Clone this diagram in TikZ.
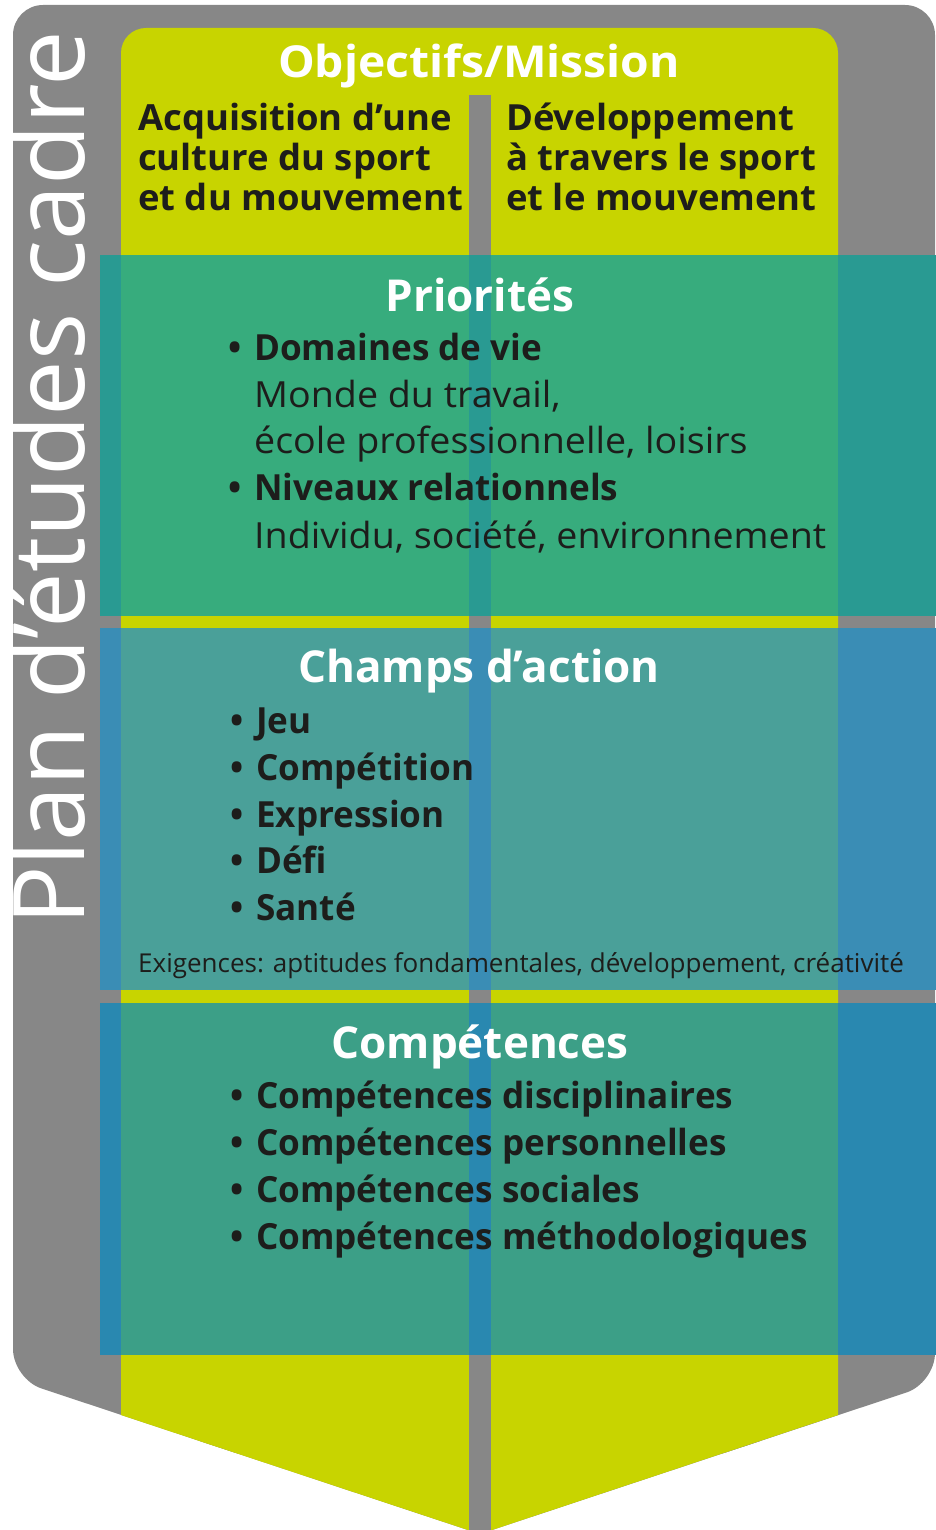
\documentclass[tikz,border=0pt]{standalone}
\usepackage{fontspec}
\setmainfont{Open Sans}
\newfontfamily\ftop[FakeStretch=1.012]{Open Sans}
\newfontfamily\fbold[FakeStretch=0.975]{Open Sans}
\newfontfamily\freg[FakeStretch=1.045]{Open Sans}
\newfontfamily\fsmall[FakeStretch=1.0]{Open Sans}
\newfontfamily\ftitle[FakeStretch=1.0]{Open Sans}
\newfontfamily\fobj[FakeStretch=1.05]{Open Sans}
\definecolor{cgray}{HTML}{878787}
\definecolor{cyellow}{HTML}{C8D400}
\definecolor{pY}{HTML}{37AC7D}
\definecolor{pG}{HTML}{299A92}
\definecolor{aY}{HTML}{4AA099}
\definecolor{aG}{HTML}{3A8DB5}
\definecolor{kY}{HTML}{3C9F87}
\definecolor{kG}{HTML}{2988B0}
\definecolor{ctext}{HTML}{1D1D1B}
\tikzset{
  txt/.style={anchor=base west, inner sep=0pt, text=ctext},
  ttl/.style={anchor=base, inner sep=0pt, text=white, font=\fontsize{44}{48}\selectfont\ftitle\bfseries},
  topb/.style={txt, font=\fontsize{36}{40}\selectfont\ftop\bfseries},
  itemb/.style={txt, font=\fontsize{36}{40}\selectfont\fbold\bfseries},
  itemr/.style={txt, font=\fontsize{36}{40}\selectfont\freg},
  small/.style={txt, font=\fontsize{26}{30}\selectfont\fsmall},
}
\newcommand{\bul}{\llap{\textbullet\hspace{13pt}}}
\begin{document}
\begin{tikzpicture}[x=1pt,y=-1pt]
\useasboundingbox (0,0) rectangle (936,1530);
% gray base shape
\fill[cgray, rounded corners=30pt] (13,5) -- (935,5) -- (935,1383) -- (700,1461) -- (260,1461) -- (13,1379) -- cycle;
\fill[cgray] (200,1300) -- (200,1441) -- (480,1534) -- (760,1441) -- (760,1300) -- cycle;
% yellow shape
\fill[cyellow, rounded corners=25pt] (121,28) rectangle (838,200);
\fill[cyellow] (121,100) -- (838,100) -- (838,1415) -- (480,1534) -- (121,1415) -- cycle;
% divider
\fill[cgray] (469,95) rectangle (491,1530);
% bands
\fill[pG] (100,255) rectangle (936,616);
\fill[pY] (121,255) rectangle (469,616);
\fill[pY] (491,255) rectangle (838,616);
\fill[aG] (100,628) rectangle (936,990);
\fill[aY] (121,628) rectangle (469,990);
\fill[aY] (491,628) rectangle (838,990);
\fill[kG] (100,1003) rectangle (936,1355);
\fill[kY] (121,1003) rectangle (469,1355);
\fill[kY] (491,1003) rectangle (838,1355);
% vertical title
\node[rotate=90, anchor=base west, inner sep=0pt, text=white, font=\fontsize{99}{103}\selectfont] (plan) at (84,926) {Plan d’études cadre};
% objectives
\node[ttl, font=\fontsize{44}{48}\selectfont\fobj\bfseries] (obj) at (479,78) {Objectifs/Mission};
\node[topb] (a1) at (138,131) {Acquisition d’une};
\node[topb] (a2) at (138,171) {culture du sport};
\node[topb] (a3) at (138,211) {et du mouvement};
\node[topb] (b1) at (506,131) {Développement};
\node[topb] (b2) at (506,171) {à travers le sport};
\node[topb] (b3) at (506,211) {et le mouvement};
% priorities
\node[ttl] (prio) at (480,311) {Priorités};
\node[itemb] (p1) at (254,360) {\bul Domaines de vie};
\node[itemr] (p2) at (254,407) {Monde du travail,};
\node[itemr] (p3) at (254,453) {école professionnelle, loisirs};
\node[itemb] (p4) at (254,500) {\bul Niveaux relationnels};
\node[itemr] (p5) at (254,548) {Individu, société, environnement};
% champs
\node[ttl] (champs) at (479,682) {Champs d’action};
\node[itemb] (c1) at (256,733) {\bul Jeu};
\node[itemb] (c2) at (256,780) {\bul Compétition};
\node[itemb] (c3) at (256,827) {\bul Expression};
\node[itemb] (c4) at (256,873) {\bul Défi};
\node[itemb] (c5) at (256,920) {\bul Santé};
\node[small] (exi) at (138,972) {Exigences: aptitudes fondamentales, développement, créativité};
% competences
\node[ttl] (comp) at (480,1058) {Compétences};
\node[itemb] (k1) at (256,1108) {\bul Compétences disciplinaires};
\node[itemb] (k2) at (256,1155) {\bul Compétences personnelles};
\node[itemb] (k3) at (256,1202) {\bul Compétences sociales};
\node[itemb] (k4) at (256,1249) {\bul Compétences méthodologiques};
\end{tikzpicture}
\end{document}
